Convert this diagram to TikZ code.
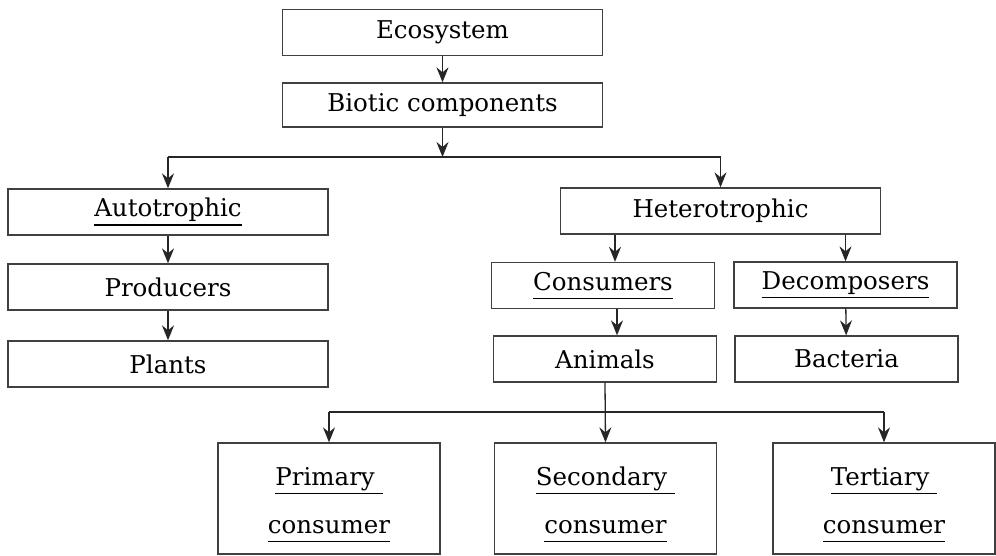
\documentclass[tikz,border=0pt]{standalone}
\usepackage{fontspec}
\setmainfont{DejaVu Serif}
\usetikzlibrary{arrows.meta}
\newsavebox{\ulbox}
\newcommand{\ulword}[1]{\sbox{\ulbox}{#1}\rlap{\rule[-9pt]{\wd\ulbox}{1.5pt}}\usebox{\ulbox}}
\newcommand{\topstrut}{\rule{0pt}{30pt}}
\begin{document}
\begin{tikzpicture}[x=1pt, y=-1pt,
    box/.style={rectangle, draw=black!75, line width=1.3pt, minimum width=320pt, minimum height=46pt, inner sep=0pt, text=black, font=\fontsize{24.5}{28}\selectfont},
    small/.style={box, minimum width=223pt},
    tall/.style={box, minimum width=222pt, minimum height=111pt, align=center, font=\fontsize{24.5}{48}\selectfont},
    arr/.style={-{Stealth[length=15pt, width=12pt, inset=5pt]}, draw=black!85, line width=1.3pt},
    link/.style={draw=black!85, line width=1.3pt}
]
    \useasboundingbox (0,0) rectangle (996,556);

    % Top: ecosystem and biotic part
    \node[box] (eco) at (442.5,32.5) {Ecosystem};
    \node[box, minimum height=44pt] (biotic) at (442.5,105) {Biotic components};

    % Left branch
    \node[box] (auto) at (168,212) {\ulword{Autotrophic}};
    \node[box] (prod) at (168,287) {Producers};
    \node[box] (plants) at (168,364) {Plants};

    % Right branch
    \node[box] (hetero) at (720.5,211) {Heterotrophic};
    \node[small] (cons) at (603,285.5) {\ulword{Consumers}};
    \node[small] (decomp) at (845.5,285) {\ulword{Decomposers}};
    \node[small] (animals) at (605,359) {Animals};
    \node[small] (bact) at (846.5,359) {Bacteria};

    % Bottom row: kinds of consumers
    \node[tall] (prim) at (329,498.5) {\topstrut\ulword{Primary\ }\\\ulword{consumer}};
    \node[tall] (sec) at (605.5,498.5) {\topstrut\ulword{Secondary\ }\\\ulword{consumer}};
    \node[tall] (tert) at (884,498.5) {\topstrut\ulword{Tertiary\ }\\\ulword{consumer}};

    \coordinate (split) at (442.5,157);
    \coordinate (fork) at (605,412);

    % Arrows at the top
    \draw[arr] (eco) -- (biotic);
    \draw[arr] (biotic) -- (split);
    \draw[link] (auto.north |- split) -- (hetero.north |- split);
    \draw[arr] (auto.north |- split) -- (auto.north);
    \draw[arr] (hetero.north |- split) -- (hetero.north);

    % Left chain
    \draw[arr] (auto) -- (prod);
    \draw[arr] (prod) -- (plants);

    % Right chains
    \draw[arr] ([xshift=12pt]cons.north |- hetero.south) -- ([xshift=12pt]cons.north);
    \draw[arr] (hetero.south -| decomp.north) -- (decomp.north);
    \draw[arr] ([xshift=14pt]cons.south) -- ([xshift=14pt]cons.south |- animals.north);
    \draw[arr] (decomp) -- (bact);

    % Animals to the three consumers
    \draw[arr] (animals.south) -- (sec.north);
    \draw[link] (prim.north |- fork) -- (tert.north |- fork);
    \draw[arr] (prim.north |- fork) -- (prim.north);
    \draw[arr] (tert.north |- fork) -- (tert.north);
\end{tikzpicture}
\end{document}
